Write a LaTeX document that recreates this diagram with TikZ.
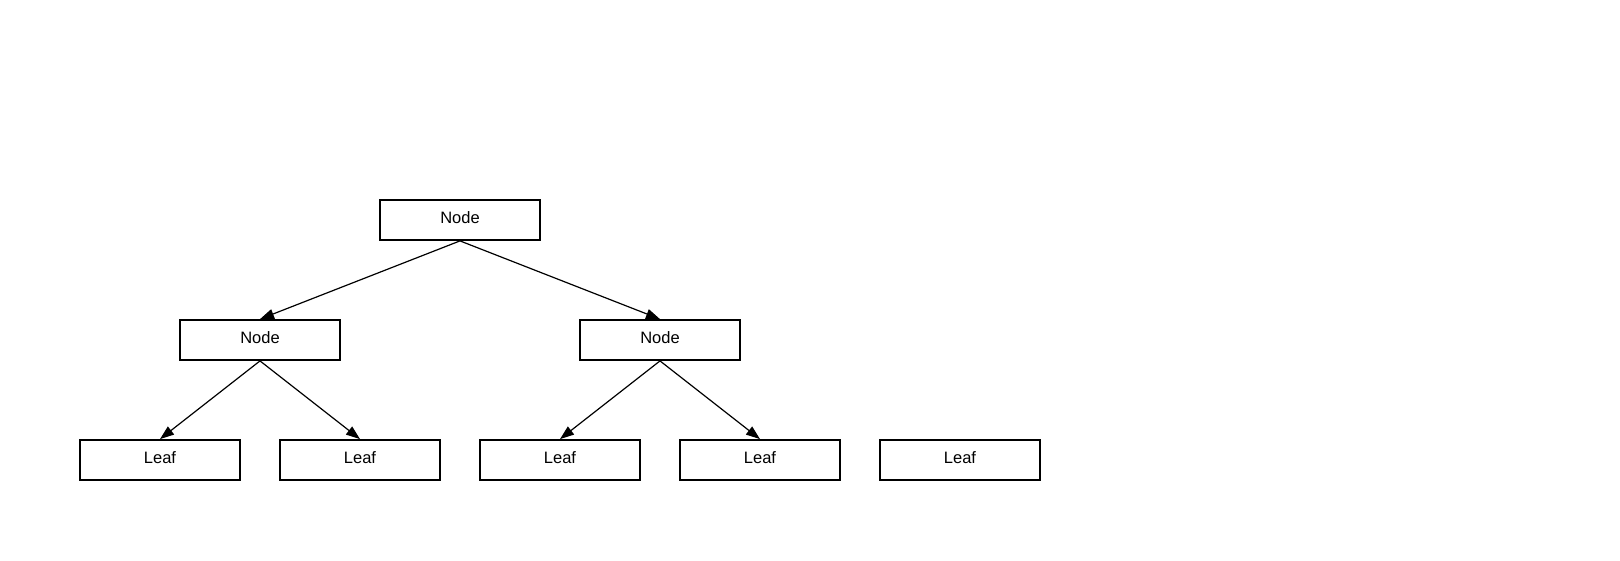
\documentclass[tikz,border=0pt]{standalone}
\usepackage{fontspec}
\setmainfont{Liberation Sans}
\usetikzlibrary{arrows.meta}

\begin{document}
\begin{tikzpicture}
  [x=1pt, y=1pt,
    level distance=120pt,
    every node/.style={draw, line width=1.8pt, minimum width=160pt, minimum height=40pt,
      inner sep=0pt, text depth=4pt, font=\fontsize{16.5}{19}\selectfont},
    level 1/.style={sibling distance=400pt},
    level 2/.style={sibling distance=200pt},
    edge from parent/.style={draw, line width=1.2pt, -{Triangle[length=14pt, width=10pt]}},
    edge from parent path={(\tikzparentnode.south) -- (\tikzchildnode.north)},
  ]
  \useasboundingbox (0,0) rectangle (1620,-560);

  \node (root) at (460,-220) {Node}
  child {node {Node}
    child {node {Leaf}}
    child {node {Leaf}}
  }
  child {node {Node}
    child {node {Leaf}}
    child {node {Leaf}}
  };

  % lone leaf
  \node (leaf5) at (960,-460) {Leaf};
\end{tikzpicture}
\end{document}
